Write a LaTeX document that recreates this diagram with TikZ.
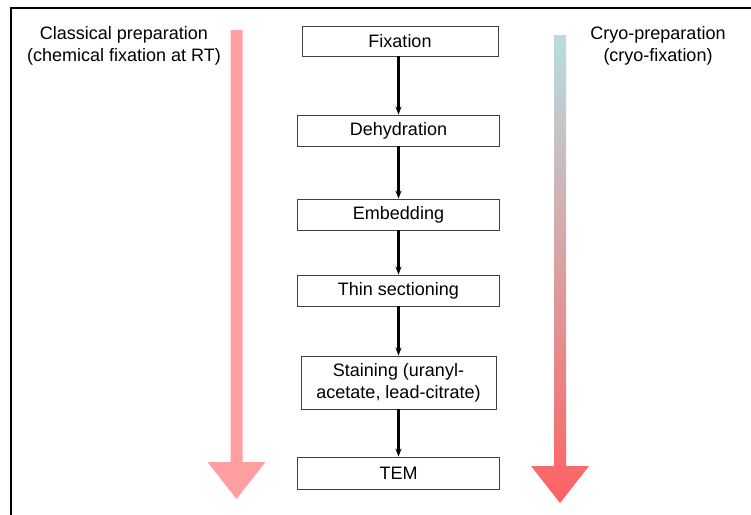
\documentclass[tikz,border=0pt]{standalone}
\usepackage{fontspec}
\setmainfont{Liberation Sans}
\usetikzlibrary{arrows.meta,calc}
\definecolor{pinkarrow}{HTML}{FF9FA2}
\definecolor{cryotop}{HTML}{B6DEE2}
\definecolor{cryomid}{HTML}{D8B6B8}
\definecolor{cryobot}{HTML}{FF6161}
\definecolor{boxline}{HTML}{404040}
\tikzset{
  stepbox/.style={draw=boxline, line width=0.9pt, fill=white, inner sep=0pt,
    minimum width=202pt, minimum height=31pt, align=center,
    font=\fontsize{18}{22}\selectfont},
  flow/.style={draw=black, line width=2.3pt, -{Stealth[length=8pt,width=6pt]}},
  label/.style={align=center, inner sep=0pt, font=\fontsize{18}{21.5}\selectfont},
  frame/.style={line width=2.6pt, black}
}
\begin{document}
\begin{tikzpicture}[x=1pt,y=-1pt]
\useasboundingbox (0,0) rectangle (751,514);
% frame (top and left edges visible)
\coordinate (fa) at (11,8);
\coordinate (fb) at (760,8);
\coordinate (fc) at (11,520);
\draw[frame] (fb) -- (fa) -- (fc);

% left classical arrow
\fill[pinkarrow] (230.5,30) -- (242.5,30) -- (242.5,462) -- (265.5,462)
  -- (236.5,499) -- (207.5,462) -- (230.5,462) -- cycle;
% right cryo arrow with gradient
\shade[top color=cryotop, middle color=cryomid, bottom color=cryobot]
  (554,35) -- (566,35) -- (566,466) -- (589,466)
  -- (560,503) -- (531,466) -- (554,466) -- cycle;

% labels
\node[label] (cl) at (124,46) {Classical preparation\\(chemical fixation at RT)};
\node[label] (cr) at (658,46) {Cryo-preparation\\(cryo-fixation)};

% steps
\node[stepbox, minimum width=196pt, minimum height=30pt] (fix) at (400,41) {Fixation};
\node[stepbox] (deh) at (398.5,130.5) {Dehydration};
\node[stepbox] (emb) at (398.5,214.5) {Embedding};
\node[stepbox] (thin) at (398.5,290.5) {Thin sectioning};
\node[stepbox, minimum width=195pt, minimum height=53pt] (stain) at (398.5,382.5)
  {Staining (uranyl-\\acetate, lead-citrate)};
\node[stepbox, minimum height=32pt] (tem) at (398.5,473) {TEM};

% connectors
\draw[flow] (fix.south -| deh.north) -- (deh.north);
\draw[flow] (deh.south) -- (emb.north);
\draw[flow] (emb.south) -- (thin.north);
\draw[flow] (thin.south) -- (stain.north);
\draw[flow] (stain.south) -- (tem.north);
\end{tikzpicture}
\end{document}
